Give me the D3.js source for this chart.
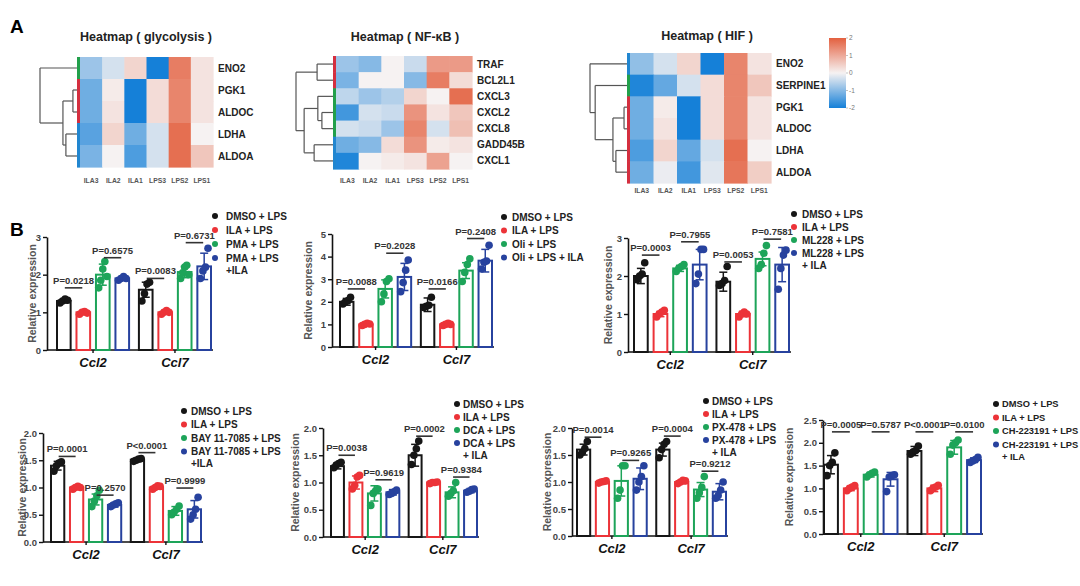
<!DOCTYPE html>
<html><head><meta charset="utf-8">
<script src="https://cdn.jsdelivr.net/npm/d3@7"></script>
<style>body{margin:0;background:#fff} svg text{font-family:"Liberation Sans",Arial,Helvetica,sans-serif}</style>
</head><body><svg id="c" width="1080" height="586"></svg>
<script>
// ---------------- DATA ----------------
const hmCols = ["ILA3","ILA2","ILA1","LPS3","LPS2","LPS1"];

const glycoGenes = ["ENO2","PGK1","ALDOC","LDHA","ALDOA"];
const glycoValues = [
  [-0.8,-0.3, 0.4,-2.0, 1.6, 0.2],
  [-1.2, 0.1,-2.0, 0.3, 1.5, 0.2],
  [-1.2, 0.2,-2.0, 0.3, 1.5, 0.2],
  [-1.4, 0.4,-1.2,-0.3, 1.8, 0.0],
  [-1.1, 0.0,-1.5,-0.3, 1.8, 0.6]
];
const glycoClusters = ["g","r","r","b","b"];
const glycoTree = [1.0, 0, [0.38, [0.11, 1, 2], [0.3, 3, 4]]];

const nfkbGenes = ["TRAF","BCL2L1","CXCL3","CXCL2","CXCL8","GADD45B","CXCL1"];
const nfkbValues = [
  [-0.8,-1.0, 0.0,-0.4, 1.2, 1.2],
  [-1.1, 0.0, 0.0,-1.0, 1.6, 0.3],
  [-0.5,-0.8,-0.6, 0.4, 0.0, 1.8],
  [-1.6,-0.3,-0.4, 1.3, 0.2, 0.6],
  [-0.3,-0.4,-0.8, 1.5,-0.3, 0.7],
  [-1.2,-1.0, 0.3, 1.3, 0.1, 0.2],
  [-1.9, 0.0, 0.1, 0.2, 1.1, 0.0]
];
const nfkbClusters = ["r","r","g","g","g","b","b"];
const nfkbTree = [1.0, [0.43, 0, 1], [0.78, [0.41, 2, [0.3, 3, 4]], [0.51, 5, 6]]];

const hifGenes = ["ENO2","SERPINE1","PGK1","ALDOC","LDHA","ALDOA"];
const hifValues = [
  [-0.9,-0.3, 0.4,-2.0, 1.5, 0.2],
  [-1.9,-1.3,-0.3, 0.3, 1.5, 0.6],
  [-1.2, 0.1,-2.0, 0.3, 1.5, 0.2],
  [-1.2, 0.2,-2.0, 0.3, 1.5, 0.2],
  [-1.5, 0.4,-1.3,-0.3, 1.8, 0.0],
  [-1.2,-0.1,-1.6,-0.2, 1.7, 0.5]
];
const hifClusters = ["b","g","r","r","r","r"];
const hifTree = [1.0, 0, [0.86, 1, [0.38, [0.08, 2, 3], [0.3, 4, 5]]]];

const colorbarTicks = [2, 1, 0, -1, -2];

const geneLabels = ["Ccl2","Ccl7"];

// Panel 1 : PMA
const pmaLegend = ["DMSO + LPS","ILA + LPS","PMA + LPS","PMA + LPS|+ILA"];
const pmaTicks = [0,1,2,3];
const pmaMeans = [[1.3,1.0,2.0,1.9],[1.6,1.0,2.07,2.22]];
const pmaErrors = [[0.05,0.04,0.28,0.05],[0.2,0.05,0.15,0.35]];
const pmaPoints = [
  [[1.25,1.3,1.35,1.32],[0.95,1.0,1.02,0.98],[1.65,1.85,2.15,2.35,1.95],[1.85,1.9,1.95,1.9]],
  [[1.3,1.5,1.75,1.8],[0.95,1.0,1.05,1.0],[1.9,2.05,2.2,2.25,2.0],[1.9,2.1,2.2,2.7]]
];
const pmaPvals = [[0,0,1,1.65,"P=0.0218"],[0,2,3,2.45,"P=0.6575"],[1,0,1,1.9,"P=0.0083"],[1,2,3,2.85,"P=0.6731"]];

// Panel 2 : Oli
const oliLegend = ["DMSO + LPS","ILA + LPS","Oli + LPS","Oli + LPS + ILA"];
const oliTicks = [0,1,2,3,4,5];
const oliMeans = [[2.0,1.0,2.57,3.1],[1.87,1.0,3.38,3.82]];
const oliErrors = [[0.15,0.05,0.4,0.6],[0.3,0.05,0.35,0.5]];
const oliPoints = [
  [[1.9,2.0,2.05,2.2],[0.95,1.0,1.05,1.02],[2.0,2.35,2.9,3.02],[2.45,2.85,3.4,3.85]],
  [[1.75,1.8,1.85,2.2],[0.95,1.0,1.05,1.0],[2.9,3.3,3.65,3.9],[3.45,3.75,3.8,4.5]]
];
const oliPvals = [[0,0,1,2.57,"P=0.0088"],[0,2,3,4.15,"P=0.2028"],[1,0,1,2.57,"P=0.0166"],[1,2,3,4.8,"P=0.2408"]];

// Panel 3 : ML228
const mlLegend = ["DMSO + LPS","ILA + LPS","ML228 + LPS","ML228 + LPS|+ ILA"];
const mlTicks = [0,1,2,3];
const mlMeans = [[2.0,1.0,2.2,2.3],[1.85,1.0,2.45,2.3]];
const mlErrors = [[0.2,0.07,0.08,0.4],[0.25,0.07,0.18,0.45]];
const mlPoints = [
  [[1.9,2.0,2.05,2.35],[0.92,1.0,1.05,1.1],[2.12,2.2,2.25,2.3],[1.8,2.05,2.7,2.7]],
  [[1.75,1.8,1.88,2.25],[0.92,1.0,1.05,1.0],[2.2,2.3,2.6,2.8],[1.65,2.2,2.55,2.68]]
];
const mlPvals = [[0,0,1,2.55,"P=0.0003"],[0,2,3,2.9,"P=0.7955"],[1,0,1,2.37,"P=0.0053"],[1,2,3,2.97,"P=0.7581"]];

// Panel 4 : BAY 11-7085
const bayLegend = ["DMSO + LPS","ILA + LPS","BAY 11-7085 + LPS","BAY 11-7085 + LPS|+ILA"];
const bayTicks = [0,0.5,1,1.5,2];
const bayMeans = [[1.4,1.0,0.78,0.68],[1.51,1.0,0.57,0.6]];
const bayErrors = [[0.08,0.03,0.1,0.04],[0.03,0.03,0.08,0.16]];
const bayPoints = [
  [[1.3,1.4,1.45,1.47],[0.97,1.0,1.02,1.0],[0.65,0.75,0.85,0.95],[0.65,0.68,0.7,0.72]],
  [[1.48,1.5,1.52,1.53],[0.97,1.0,1.03,1.02],[0.5,0.55,0.6,0.66],[0.42,0.5,0.6,0.82]]
];
const bayPvals = [[0,0,1,1.57,"P=0.0001"],[0,2,3,0.86,"P=0.2570"],[1,0,1,1.64,"P<0.0001"],[1,2,3,0.99,"P=0.9999"]];

// Panel 5 : DCA
const dcaLegend = ["DMSO + LPS","ILA + LPS","DCA + LPS","DCA + LPS|+ ILA"];
const dcaTicks = [0,0.5,1,1.5,2];
const dcaMeans = [[1.3,1.0,0.8,0.82],[1.5,1.0,0.82,0.85]];
const dcaErrors = [[0.05,0.12,0.14,0.05],[0.2,0.02,0.1,0.04]];
const dcaPoints = [
  [[1.27,1.32,1.35,1.37],[0.88,0.95,1.1,1.13],[0.58,0.8,0.85,0.88],[0.78,0.8,0.83,0.86]],
  [[1.33,1.5,1.62,1.76],[0.98,1.0,1.0,1.01],[0.75,0.8,0.85,1.0],[0.82,0.84,0.87,0.88]]
];
const dcaPvals = [[0,0,1,1.5,"P=0.0038"],[0,2,3,1.05,"P=0.9619"],[1,0,1,1.85,"P=0.0002"],[1,2,3,1.1,"P=0.9384"]];

// Panel 6 : PX-478
const pxLegend = ["DMSO + LPS","ILA + LPS","PX-478 + LPS","PX-478 + LPS|+ ILA"];
const pxTicks = [0,0.5,1,1.5,2];
const pxMeans = [[1.6,1.0,1.02,1.06],[1.6,1.0,0.86,0.82]];
const pxErrors = [[0.1,0.02,0.28,0.2],[0.12,0.03,0.13,0.15]];
const pxPoints = [
  [[1.5,1.55,1.62,1.75],[0.98,1.0,1.01,1.02],[0.7,0.85,1.3,1.3],[0.85,1.0,1.1,1.3]],
  [[1.45,1.6,1.7,1.75],[0.97,1.0,1.03,1.02],[0.7,0.8,0.9,1.1],[0.7,0.75,0.85,1.0]]
];
const pxPvals = [[0,0,1,1.83,"P=0.0014"],[0,2,3,1.4,"P=0.9265"],[1,0,1,1.85,"P=0.0004"],[1,2,3,1.2,"P=0.9212"]];

// Panel 7 : CH-223191
const chLegend = ["DMSO + LPS","ILA + LPS","CH-223191 + LPS","CH-223191 + LPS|+ ILA"];
const chTicks = [0,0.5,1,1.5,2,2.5];
const chMeans = [[1.52,1.0,1.3,1.2],[1.82,1.0,1.9,1.62]];
const chErrors = [[0.2,0.05,0.05,0.15],[0.1,0.07,0.15,0.05]];
const chPoints = [
  [[1.28,1.5,1.57,1.78],[0.95,1.0,1.03,1.06],[1.25,1.3,1.33,1.36],[0.93,1.25,1.28,1.3]],
  [[1.75,1.8,1.83,1.93],[0.95,1.0,1.03,1.07],[1.75,1.95,2.0,2.06],[1.57,1.6,1.63,1.68]]
];
const chPvals = [[0,0,1,2.24,"P=0.0005"],[0,2,3,2.24,"P=0.5787"],[1,0,1,2.24,"P<0.0001"],[1,2,3,2.24,"P=0.0100"]];

// ---------------- DRAWING ----------------
const svg = d3.select("#c");
const heatColor = d3.scaleLinear().domain([-2,0,2]).range(["#1580d8","#f6f2f2","#e3603f"]).clamp(true);
const clusterColor = {g:"#22a04b", r:"#d42f3f", b:"#2186d0"};
const seriesColor = ["#161616","#ec3338","#1da459","#27429e"];

svg.append("text").attr("x",10).attr("y",33).attr("font-size",19).attr("font-weight","bold").text("A");
svg.append("text").attr("x",10).attr("y",236).attr("font-size",19).attr("font-weight","bold").text("B");

function heatmap(c) {
  const g = svg.append("g");
  const x = d3.scaleBand().domain(hmCols).range([c.x0, c.x1]);
  const y = d3.scaleBand().domain(c.genes).range([c.y0, c.y1]);
  const cells = c.values.flatMap((row,i)=>row.map((v,j)=>({gene:c.genes[i], col:hmCols[j], v})));
  g.selectAll("rect.cell").data(cells).join("rect")
    .attr("x",d=>x(d.col)).attr("y",d=>y(d.gene))
    .attr("width",x.bandwidth()+0.6).attr("height",y.bandwidth()+0.6)
    .attr("fill",d=>heatColor(d.v));
  g.selectAll("rect.strip").data(c.genes).join("rect")
    .attr("x",c.x0-3).attr("y",d=>y(d)).attr("width",3).attr("height",y.bandwidth()+0.6)
    .attr("fill",(d,i)=>clusterColor[c.clusters[i]]);
  g.selectAll("text.row").data(c.genes).join("text")
    .attr("x",c.x1+5).attr("y",d=>y(d)+y.bandwidth()/2).attr("dy","0.35em")
    .attr("font-size",10).attr("font-weight","bold").attr("fill","#222").text(d=>d);
  g.selectAll("text.col").data(hmCols).join("text")
    .attr("x",d=>x(d)+x.bandwidth()/2).attr("y",c.colY).attr("text-anchor","middle")
    .attr("font-size",6.8).attr("font-weight","bold").attr("fill","#555").text(d=>d);
  g.append("text").attr("x",c.titleX).attr("y",c.titleY).attr("text-anchor","middle")
    .attr("font-size",12.5).attr("font-weight","bold").attr("fill","#222").text(c.title);
  const leafX = c.x0-3;
  const lines = [];
  function walk(node){
    if (typeof node === "number") return {x:leafX, y:y(c.genes[node])+y.bandwidth()/2};
    const a = walk(node[1]), b = walk(node[2]);
    const nx = leafX - node[0]*c.span;
    lines.push([nx,a.y,nx,b.y],[nx,a.y,a.x,a.y],[nx,b.y,b.x,b.y]);
    return {x:nx, y:(a.y+b.y)/2};
  }
  walk(c.tree);
  g.selectAll("line.dn").data(lines).join("line")
    .attr("x1",d=>d[0]).attr("y1",d=>d[1]).attr("x2",d=>d[2]).attr("y2",d=>d[3])
    .attr("stroke","#555").attr("stroke-width",1.2);
}

heatmap({genes:glycoGenes, values:glycoValues, clusters:glycoClusters, tree:glycoTree,
  x0:80, x1:213, y0:57, y1:167, span:37, colY:183, title:"Heatmap ( glycolysis )", titleX:146, titleY:41});
heatmap({genes:nfkbGenes, values:nfkbValues, clusters:nfkbClusters, tree:nfkbTree,
  x0:336, x1:472, y0:56, y1:169, span:37, colY:183, title:"Heatmap ( NF-\u03baB )", titleX:405, titleY:41});
heatmap({genes:hifGenes, values:hifValues, clusters:hifClusters, tree:hifTree,
  x0:630, x1:771, y0:53, y1:183, span:37, colY:193, title:"Heatmap ( HIF )", titleX:707, titleY:40});

// colorbar
(function(){
  const cy = d3.scaleLinear().domain([2,-2]).range([38,108]);
  const defs = svg.append("defs");
  const grad = defs.append("linearGradient").attr("id","cb").attr("x1",0).attr("y1",0).attr("x2",0).attr("y2",1);
  colorbarTicks.forEach((t,i)=>grad.append("stop").attr("offset",i/(colorbarTicks.length-1)).attr("stop-color",heatColor(t)));
  svg.append("rect").attr("x",829).attr("y",38).attr("width",17).attr("height",70).attr("fill","url(#cb)");
  svg.selectAll("text.cbt").data(colorbarTicks).join("text")
    .attr("x",849).attr("y",d=>cy(d)).attr("dy","0.35em").attr("font-size",6.5).attr("fill","#777").text(d=>d);
  svg.selectAll("line.cbt").data(colorbarTicks).join("line")
    .attr("x1",846).attr("x2",848).attr("y1",d=>cy(d)).attr("y2",d=>cy(d)).attr("stroke","#999").attr("stroke-width",0.6);
})();

function barPanel(D, L) {
  const g = svg.append("g");
  const y = d3.scaleLinear().domain([0, d3.max(D.ticks)]).range([L.y0, L.yTop]);
  const gx = d3.scaleBand().domain(geneLabels).range([L.xStart, L.xEnd]).paddingInner(0.12);
  const sx = d3.scaleBand().domain(d3.range(4)).range([0, gx.bandwidth()]).paddingInner(0.3);
  const bw = sx.bandwidth();
  const cx = (gi, si) => gx(geneLabels[gi]) + sx(si) + bw/2;

  const ax = g.append("g").attr("transform",`translate(${L.axisX},0)`)
    .call(d3.axisLeft(y).tickValues(D.ticks).tickFormat(d3.format(L.fmt)).tickSize(4).tickSizeOuter(0));
  ax.select(".domain").attr("stroke","#111").attr("stroke-width",1.6);
  ax.selectAll(".tick line").attr("stroke","#111").attr("stroke-width",1.4);
  ax.selectAll(".tick text").attr("font-size",9.5).attr("font-weight","bold").attr("fill","#444")
    .attr("font-family",'"Liberation Sans",Arial,sans-serif').attr("x",-6);
  g.append("line").attr("x1",L.axisX).attr("x2",L.xEnd+2).attr("y1",L.y0).attr("y2",L.y0)
    .attr("stroke","#111").attr("stroke-width",1.6);
  g.selectAll("line.gt").data(geneLabels).join("line")
    .attr("x1",d=>gx(d)+gx.bandwidth()/2).attr("x2",d=>gx(d)+gx.bandwidth()/2)
    .attr("y1",L.y0).attr("y2",L.y0+3).attr("stroke","#111").attr("stroke-width",1.4);
  g.selectAll("text.cat").data(geneLabels).join("text")
    .attr("x",d=>gx(d)+gx.bandwidth()/2).attr("y",L.y0+17).attr("text-anchor","middle")
    .attr("font-size",13).attr("font-weight","bold").attr("font-style","italic").attr("fill","#111").text(d=>d);
  g.append("text").attr("transform",`translate(${L.labelX},${(L.y0+L.yTop)/2}) rotate(-90)`)
    .attr("text-anchor","middle").attr("dy","0.35em").attr("font-size",10.5).attr("font-weight","bold").attr("fill","#555")
    .text("Relative expression");

  const bars = D.means.flatMap((row,gi)=>row.map((m,si)=>({gi,si,m,e:D.errors[gi][si]})));
  g.selectAll("rect.bar").data(bars).join("rect")
    .attr("x",d=>cx(d.gi,d.si)-bw/2).attr("y",d=>y(d.m)).attr("width",bw).attr("height",d=>L.y0-y(d.m))
    .attr("fill","#fff").attr("stroke",d=>seriesColor[d.si]).attr("stroke-width",2);
  const eb = g.selectAll("g.eb").data(bars).join("g");
  eb.append("line").attr("x1",d=>cx(d.gi,d.si)).attr("x2",d=>cx(d.gi,d.si))
    .attr("y1",d=>y(d.m-d.e)).attr("y2",d=>y(d.m+d.e)).attr("stroke",d=>seriesColor[d.si]).attr("stroke-width",1.5);
  [-1,1].forEach(s=>eb.append("line").attr("x1",d=>cx(d.gi,d.si)-4).attr("x2",d=>cx(d.gi,d.si)+4)
    .attr("y1",d=>y(d.m+s*d.e)).attr("y2",d=>y(d.m+s*d.e)).attr("stroke",d=>seriesColor[d.si]).attr("stroke-width",1.5));

  const pts = D.points.flatMap((grp,gi)=>grp.flatMap((arr,si)=>arr.map((v,i)=>({gi,si,v,i,n:arr.length}))));
  g.selectAll("circle.pt").data(pts).join("circle")
    .attr("cx",d=>cx(d.gi,d.si)+((d.i+0.5)/d.n-0.5)*bw*0.75).attr("cy",d=>y(d.v)).attr("r",3.8)
    .attr("fill",d=>seriesColor[d.si]);

  const pv = g.selectAll("g.pv").data(D.pvals).join("g");
  pv.append("line").attr("x1",d=>cx(d[0],d[1])+1).attr("x2",d=>cx(d[0],d[2])-1)
    .attr("y1",d=>y(d[3])).attr("y2",d=>y(d[3])).attr("stroke","#333").attr("stroke-width",1.6);
  pv.append("text").attr("x",d=>(cx(d[0],d[1])+cx(d[0],d[2]))/2).attr("y",d=>y(d[3])-4)
    .attr("text-anchor","middle").attr("font-size",9.5).attr("font-weight","bold").attr("fill","#333").text(d=>d[4]);

  const lg = g.selectAll("g.lg").data(D.legend).join("g")
    .attr("transform",(d,i)=>`translate(0,${L.legY+i*L.legStep})`);
  lg.append("circle").attr("cx",L.dotX).attr("cy",0).attr("r",3).attr("fill",(d,i)=>seriesColor[i]);
  lg.each(function(d){
    const parts = d.split("|");
    d3.select(this).selectAll("text").data(parts).join("text")
      .attr("x",L.textX).attr("y",(p,k)=>k*12).attr("dy","0.35em")
      .attr("font-size",L.legFont||10).attr("font-weight","bold").attr("fill","#222").text(p=>p);
  });
}

barPanel({legend:pmaLegend,ticks:pmaTicks,means:pmaMeans,errors:pmaErrors,points:pmaPoints,pvals:pmaPvals},
  {axisX:47,y0:350,yTop:237,xStart:57,xEnd:211,fmt:"d",labelX:32,dotX:215,textX:226,legY:216,legStep:14});
barPanel({legend:oliLegend,ticks:oliTicks,means:oliMeans,errors:oliErrors,points:oliPoints,pvals:oliPvals},
  {axisX:332,y0:347,yTop:234,xStart:340,xEnd:492,fmt:"d",labelX:308,dotX:504,textX:512,legY:217,legStep:13.5});
barPanel({legend:mlLegend,ticks:mlTicks,means:mlMeans,errors:mlErrors,points:mlPoints,pvals:mlPvals},
  {axisX:628,y0:352,yTop:238,xStart:634,xEnd:789,fmt:"d",labelX:608,dotX:794,textX:802,legY:214,legStep:13});
barPanel({legend:bayLegend,ticks:bayTicks,means:bayMeans,errors:bayErrors,points:bayPoints,pvals:bayPvals},
  {axisX:43,y0:542,yTop:433,xStart:51,xEnd:201,fmt:".1f",labelX:22,dotX:184,textX:191,legY:411,legStep:13.5});
barPanel({legend:dcaLegend,ticks:dcaTicks,means:dcaMeans,errors:dcaErrors,points:dcaPoints,pvals:dcaPvals},
  {axisX:323,y0:537,yTop:428,xStart:331,xEnd:477,fmt:".1f",labelX:295,dotX:457,textX:463,legY:404,legStep:13});
barPanel({legend:pxLegend,ticks:pxTicks,means:pxMeans,errors:pxErrors,points:pxPoints,pvals:pxPvals},
  {axisX:572,y0:536,yTop:428,xStart:577,xEnd:726,fmt:".1f",labelX:547,dotX:706,textX:712,legY:401,legStep:13});
barPanel({legend:chLegend,ticks:chTicks,means:chMeans,errors:chErrors,points:chPoints,pvals:chPvals},
  {axisX:823,y0:534,yTop:420,xStart:824,xEnd:981,fmt:".1f",labelX:789,dotX:996,textX:1002,legY:404,legStep:13.5,legFont:9.3});
</script></body></html>
